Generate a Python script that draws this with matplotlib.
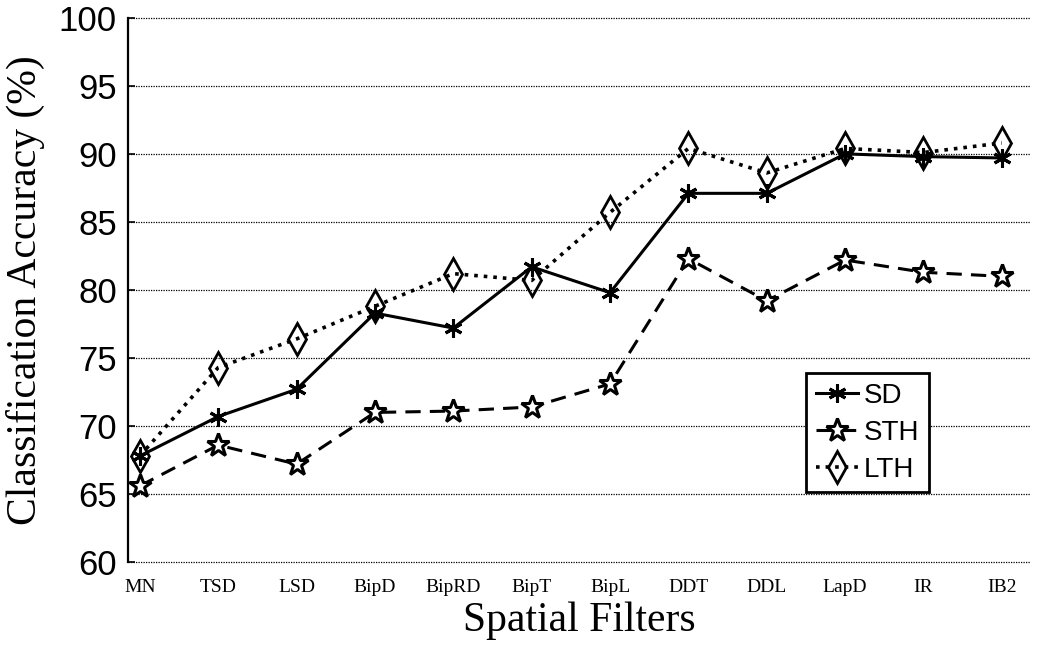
import matplotlib.pyplot as plt
import numpy as np

filters = ['MN', 'TSD', 'LSD', 'BipD', 'BipRD', 'BipT', 'BipL', 'DDT', 'DDL', 'LapD', 'IR', 'IB2']
sd = [67.8, 70.7, 72.7, 78.3, 77.2, 81.7, 79.8, 87.1, 87.1, 90.0, 89.8, 89.7]
sth = [65.6, 68.6, 67.2, 71.0, 71.1, 71.4, 73.1, 82.3, 79.2, 82.2, 81.3, 81.0]
lth = [67.8, 74.3, 76.4, 78.8, 81.2, 80.7, 85.7, 90.4, 88.6, 90.4, 90.1, 90.8]

x = np.arange(len(filters))

fig = plt.figure(figsize=(10.5, 6.59), dpi=100)
ax = fig.add_axes([0.122, 0.147, 0.859, 0.826])

ax.plot(x, sd, color='black', linestyle='-', linewidth=2.2,
        marker=(6, 2, 0), markersize=13, markeredgewidth=2.2, label='SD', zorder=3)
ax.plot(x, sth, color='black', linestyle='--', linewidth=2.2, dashes=(5, 3),
        marker='*', markersize=17, markerfacecolor='white', markeredgecolor='black',
        markeredgewidth=2.2, label='STH', zorder=3)
ax.plot(x, lth, color='black', linestyle=':', linewidth=2.6,
        marker='d', markersize=16, markerfacecolor='none', markeredgecolor='black',
        markeredgewidth=2, label='LTH', zorder=3)

ax.set_xlim(-0.15, 11.36)
ax.set_ylim(60, 100)
ax.set_yticks(np.arange(60, 101, 5))
ax.set_xticks(x)
ax.set_xticklabels(filters, fontfamily='Liberation Serif', fontsize=14)
ax.tick_params(axis='x', length=0, pad=12)
ax.tick_params(axis='y', direction='in', length=5, width=1.2, pad=8, labelsize=25)
for lbl in ax.get_yticklabels():
    lbl.set_fontfamily('Liberation Sans')

ax.yaxis.grid(True, linestyle=(0, (1, 1)), color='black', linewidth=0.9)
for gl in ax.get_ygridlines():
    gl.set_clip_on(False)
ax.set_axisbelow(True)
for s in ['top', 'right', 'bottom']:
    ax.spines[s].set_visible(False)
ax.spines['left'].set_linewidth(1.6)

ax.set_xlabel('Spatial Filters', fontfamily='Liberation Serif', fontsize=30, labelpad=4)
ax.set_ylabel('Classification Accuracy (%)', fontfamily='Liberation Serif', fontsize=30, labelpad=10)

leg = ax.legend(loc='lower left', bbox_to_anchor=(0.752, 0.128), fancybox=False,
                prop={'family': 'Liberation Sans', 'size': 20}, handlelength=1.5,
                handletextpad=0.2, borderpad=0.35, labelspacing=0.4, framealpha=1,
                borderaxespad=0)
leg.get_frame().set_edgecolor('black')
leg.get_frame().set_linewidth(2)

fig.savefig('out.png', dpi=100)
